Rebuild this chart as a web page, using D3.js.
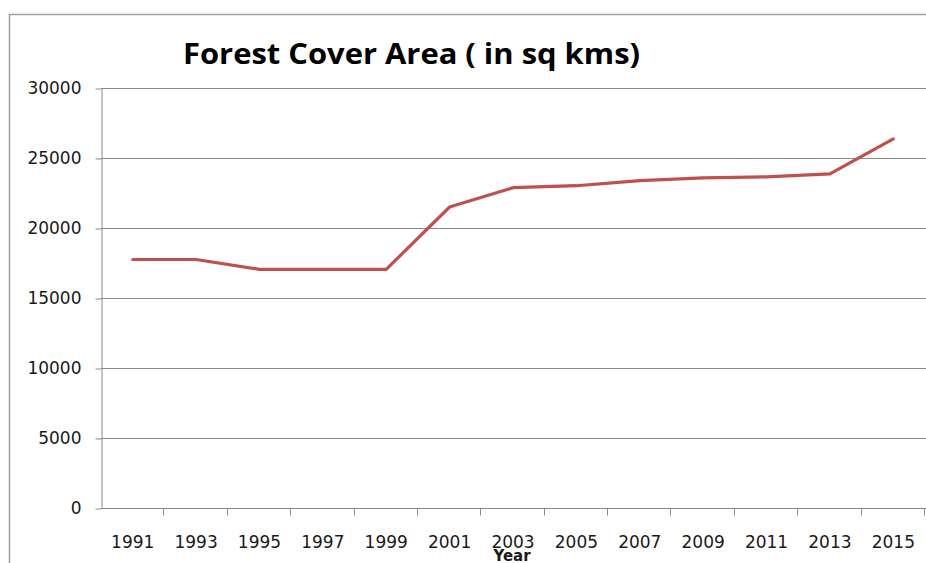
<!DOCTYPE html>
<html>
<head>
<meta charset="utf-8">
<script src="https://cdn.jsdelivr.net/npm/d3@7"></script>
<style>
  body { margin: 0; background: #fff; }
  svg { display: block; }
</style>
</head>
<body>
<script>
// data
var years = ["1991", "1993", "1995", "1997", "1999", "2001", "2003",
             "2005", "2007", "2009", "2011", "2013", "2015"];
var forestArea = [17750, 17750, 17050, 17050, 17050, 21500, 22880,
                  23020, 23380, 23580, 23650, 23870, 26360];
var yTicks = [0, 5000, 10000, 15000, 20000, 25000, 30000];

var width = 926, height = 563;
var margin = {top: 88, right: 1, bottom: 55, left: 101};

var svg = d3.select("body").append("svg")
            .attr("width", width)
            .attr("height", height);

// outer chart border (runs off the right and bottom edges)
svg.append("rect")
   .attr("x", 9.5)
   .attr("y", 14.5)
   .attr("width", width)
   .attr("height", height)
   .attr("fill", "none")
   .attr("stroke", "#a0a0a0")
   .attr("stroke-width", 1.5);

var x = d3.scaleBand()
          .domain(years)
          .range([margin.left, width - margin.right])
          .padding(0);

var y = d3.scaleLinear()
          .domain([0, 30000])
          .range([height - margin.bottom, margin.top]);

// horizontal gridlines
svg.append("g")
   .selectAll("line")
   .data(yTicks.filter(function(d) { return d > 0; }))
   .enter()
   .append("line")
     .attr("x1", margin.left)
     .attr("x2", width)
     .attr("y1", function(d) { return Math.round(y(d)) + 0.5; })
     .attr("y2", function(d) { return Math.round(y(d)) + 0.5; })
     .attr("stroke", "#8c8c8c")
     .attr("stroke-width", 1);

// y axis
var yAxis = d3.axisLeft(y)
              .tickValues(yTicks)
              .tickFormat(d3.format("d"))
              .tickSize(6)
              .tickPadding(14)
              .tickSizeOuter(0);

var gy = svg.append("g")
   .attr("transform", "translate(" + (margin.left + 0.5) + ",0.5)")
   .call(yAxis);
gy.select(".domain").attr("stroke", "#8c8c8c");
gy.selectAll(".tick line").attr("stroke", "#8c8c8c");
gy.selectAll("text")
  .attr("font-family", "DejaVu Sans")
  .attr("font-size", 17)
  .attr("fill", "#1a1a1a");

// x axis: labels centred on categories, ticks between categories
var xAxis = d3.axisBottom(x)
              .tickSize(0)
              .tickPadding(27)
              .tickSizeOuter(0);

var gx = svg.append("g")
   .attr("transform", "translate(0," + (Math.round(y(0)) + 0.5) + ")")
   .call(xAxis);
gx.select(".domain").attr("stroke", "#8c8c8c").attr("d", "M" + margin.left + ",0H" + width);
gx.selectAll("text")
  .attr("font-family", "DejaVu Sans")
  .attr("font-size", 17)
  .attr("fill", "#1a1a1a");

var bounds = years.map(function(d) { return x(d); }).concat([x.range()[1]]);
gx.append("g")
  .selectAll("line")
  .data(bounds.slice(1))
  .enter()
  .append("line")
    .attr("x1", function(d) { return Math.round(d) - 0.5; })
    .attr("x2", function(d) { return Math.round(d) - 0.5; })
    .attr("y1", 0)
    .attr("y2", 7)
    .attr("stroke", "#8c8c8c");

// the line
var line = d3.line()
             .x(function(d, i) { return x(years[i]) + x.bandwidth() / 2; })
             .y(function(d) { return y(d); });

svg.append("path")
   .datum(forestArea)
   .attr("d", line)
   .attr("fill", "none")
   .attr("stroke", "#c0504d")
   .attr("stroke-width", 3.2)
   .attr("stroke-linejoin", "round")
   .attr("stroke-linecap", "round");

// title
svg.append("text")
   .attr("x", 183)
   .attr("y", 64)
   .attr("font-family", "Open Sans")
   .attr("font-weight", "bold")
   .attr("font-size", 29)
   .attr("textLength", 457)
   .attr("lengthAdjust", "spacingAndGlyphs")
   .attr("fill", "#000")
   .text("Forest Cover Area ( in sq kms)");

// x axis title (overlaps the 2003 label, as in the original)
svg.append("text")
   .attr("x", 512)
   .attr("y", 561)
   .attr("text-anchor", "middle")
   .attr("font-family", "DejaVu Sans")
   .attr("font-weight", "bold")
   .attr("font-size", 15)
   .attr("fill", "#1a1a1a")
   .text("Year");
</script>
</body>
</html>
